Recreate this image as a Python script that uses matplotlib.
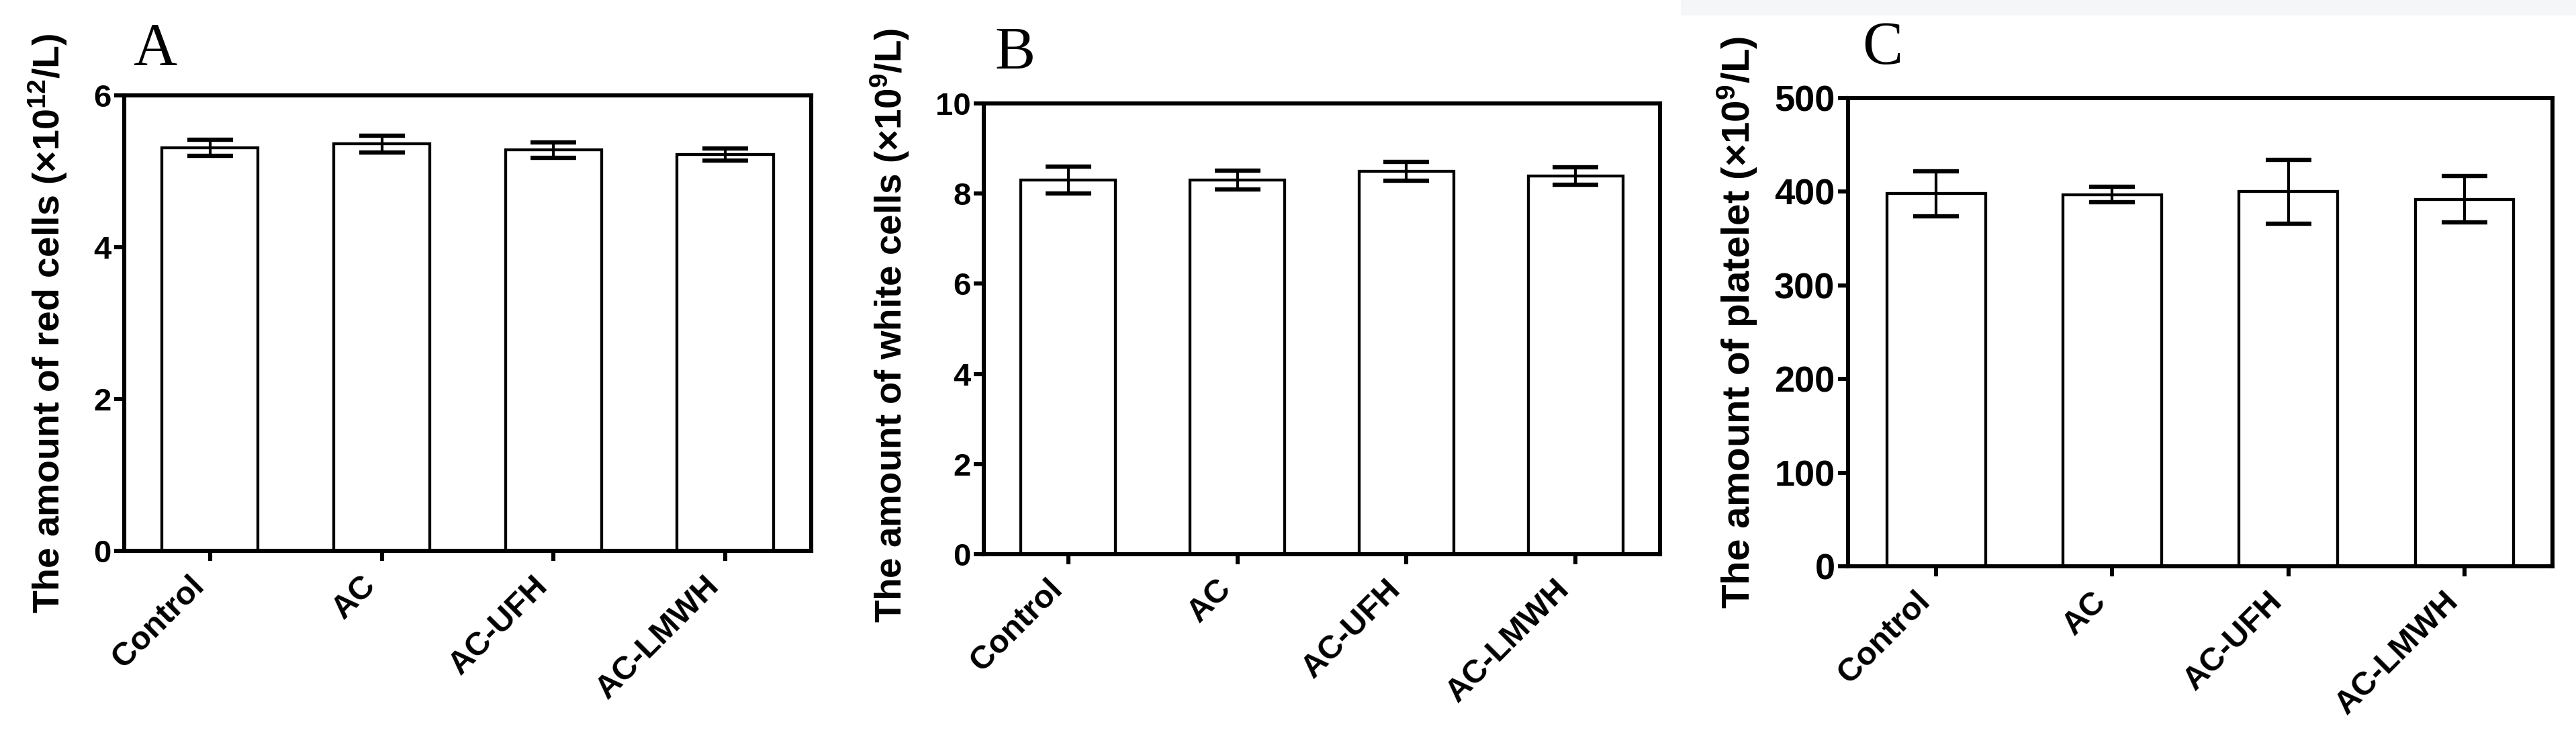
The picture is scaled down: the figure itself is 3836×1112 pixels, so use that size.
import matplotlib
matplotlib.use('Agg')
import matplotlib.pyplot as plt
import matplotlib.transforms as mtransforms
from matplotlib.patches import Rectangle
import numpy as np

plt.rcParams['font.family'] = ['Liberation Sans', 'DejaVu Sans']
plt.rcParams['font.weight'] = 'bold'
plt.rcParams['mathtext.default'] = 'regular'

# данные
groups = ['Control', 'AC', 'AC-UFH', 'AC-LMWH']

red_mean = [5.31, 5.36, 5.28, 5.22]
red_err = [0.11, 0.11, 0.10, 0.08]

white_mean = [8.30, 8.30, 8.49, 8.39]
white_err = [0.30, 0.21, 0.21, 0.20]

plt_mean = [398, 397, 400, 392]
plt_err = [24, 8, 34, 25]

fig = plt.figure(figsize=(19.18, 5.56), dpi=200)

# светлая полоса сверху справа (как на скане)
fig.patches.append(Rectangle((0.6525, 0.9793), 0.3475, 0.0207, transform=fig.transFigure,
                             facecolor='#f5f6f8', edgecolor='none', zorder=0))

panels = [
    dict(rect=[0.0482, 0.2626, 0.2667, 0.6097], mean=red_mean, err=red_err,
         ylim=(0, 6), yticks=[0, 2, 4, 6],
         ylabel='The amount of red cells (×10$^{12}$/L)', lab_x=-0.080, lab_y=0.5,
         letter='A', let_xy=(0.0516, 0.9128), tsize=17, lsize=20),
    dict(rect=[0.3819, 0.2581, 0.2625, 0.6034], mean=white_mean, err=white_err,
         ylim=(0, 10), yticks=[0, 2, 4, 6, 8, 10],
         ylabel='The amount of white cells (×10$^{9}$/L)', lab_x=-0.107, lab_y=0.507,
         letter='B', let_xy=(0.3863, 0.9074), tsize=17, lsize=19.7),
    dict(rect=[0.7174, 0.2419, 0.2735, 0.6268], mean=plt_mean, err=plt_err,
         ylim=(0, 500), yticks=[0, 100, 200, 300, 400, 500],
         ylabel='The amount of platelet (×10$^{9}$/L)', lab_x=-0.126, lab_y=0.521,
         letter='C', let_xy=(0.7229, 0.9146), tsize=19.5, lsize=21),
]

x = np.arange(len(groups))
shift = mtransforms.ScaledTranslation(3 / 72, 0, fig.dpi_scale_trans)

for p in panels:
    ax = fig.add_axes(p['rect'])
    ax.bar(x, p['mean'], width=0.56, color='white', edgecolor='black',
           linewidth=1.55, zorder=2)
    ax.errorbar(x, p['mean'], yerr=p['err'], fmt='none', ecolor='black',
                elinewidth=1.5, capsize=12.4, capthick=2.3, zorder=3)

    ax.set_xlim(-0.5, 3.5)
    ax.set_ylim(*p['ylim'])
    ax.set_yticks(p['yticks'])
    ax.set_xticks(x)
    ax.set_xticklabels(groups, rotation=45, ha='right', fontsize=17.5, fontweight='bold')
    for lbl in ax.get_xticklabels():
        lbl.set_transform(lbl.get_transform() + shift)

    for s in ax.spines.values():
        s.set_linewidth(2.2)
    ax.tick_params(axis='both', width=2.2, length=5.5, direction='out')
    ax.tick_params(axis='x', pad=5)
    ax.tick_params(axis='y', labelsize=p['tsize'], pad=1.5)

    ax.set_ylabel(p['ylabel'], fontsize=p['lsize'], fontweight='bold')
    ax.yaxis.set_label_coords(p['lab_x'], p['lab_y'])

    fig.text(p['let_xy'][0], p['let_xy'][1], p['letter'], family='Liberation Serif',
             fontsize=32.5, fontweight='normal', va='baseline', ha='left')

fig.savefig('out.png', dpi=200)
